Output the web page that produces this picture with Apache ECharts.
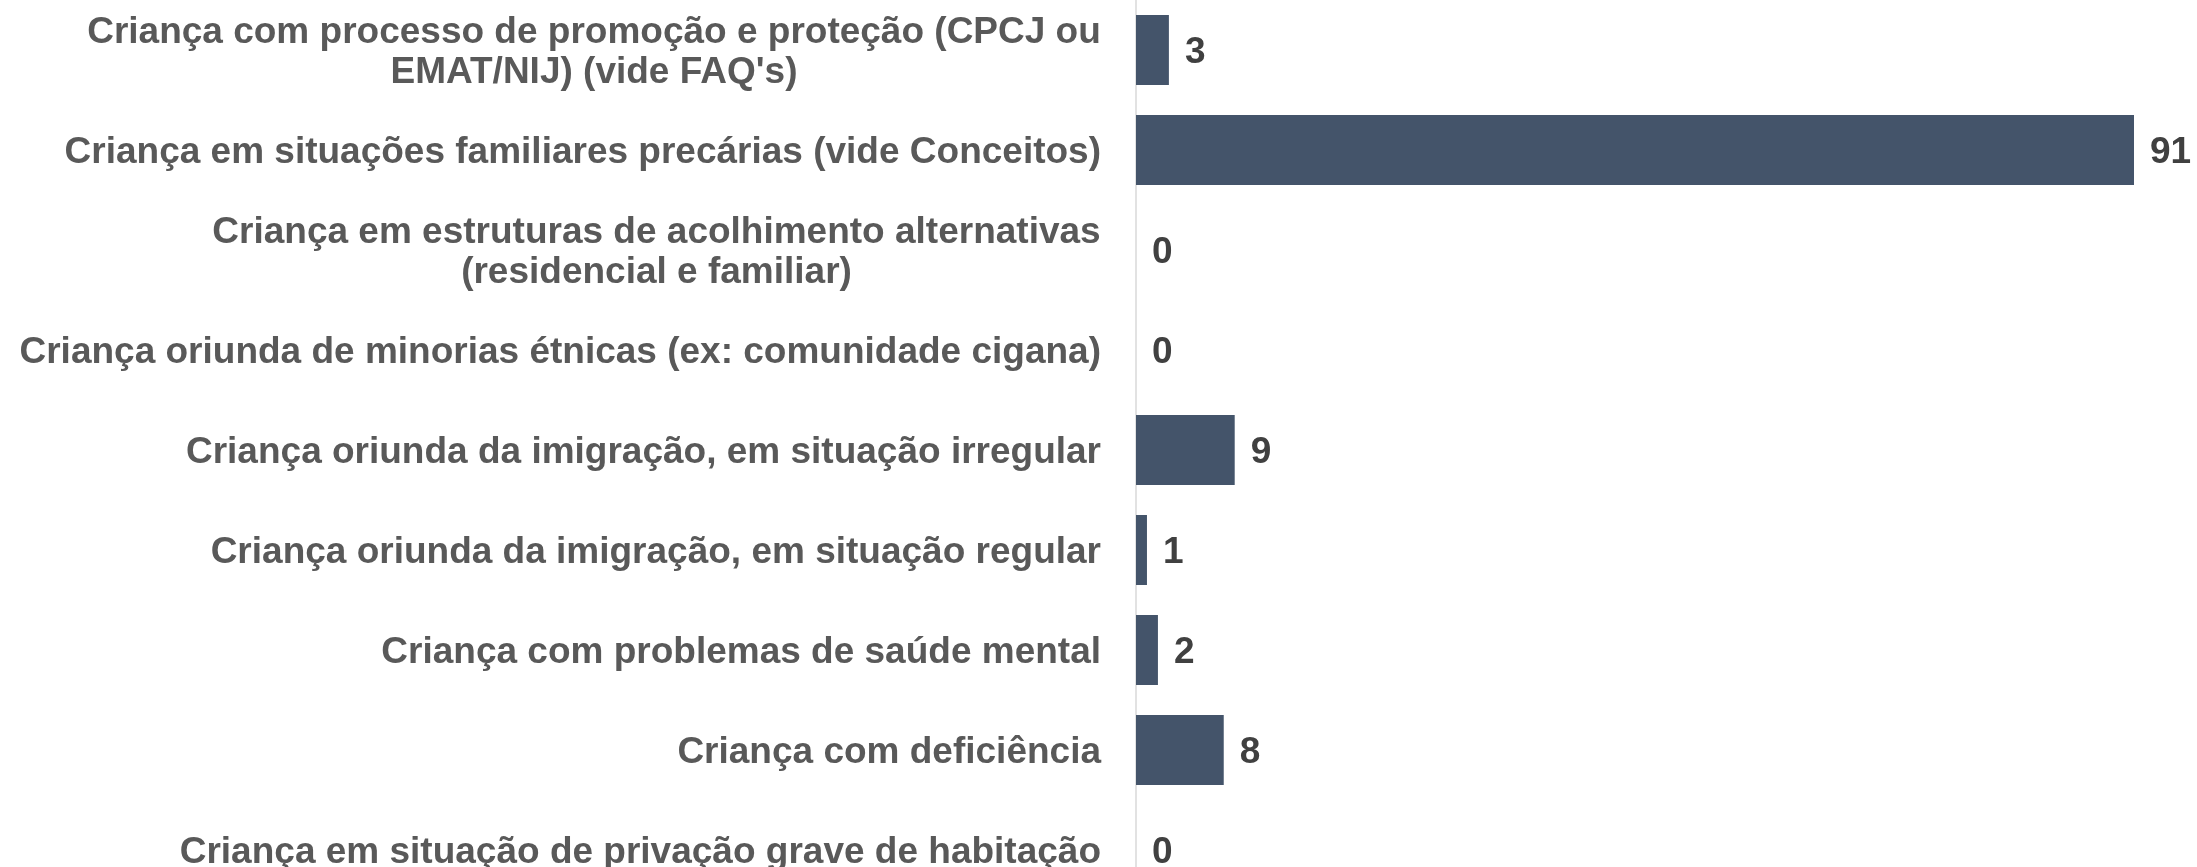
<!DOCTYPE html>
<html>
<head>
<meta charset="utf-8">
<script src="https://cdn.jsdelivr.net/npm/echarts@6/dist/echarts.min.js"></script>
<style>
  html, body { margin: 0; padding: 0; background: #fff; overflow: hidden; }
  #chart { width: 2197px; height: 900px; }
</style>
</head>
<body>
<div id="chart"></div>
<script>
const categories = [
  "Criança com processo de promoção e proteção (CPCJ ou\nEMAT/NIJ) (vide FAQ's)",
  "Criança em situações familiares precárias (vide Conceitos)",
  "Criança em estruturas de acolhimento alternativas\n(residencial e familiar)",
  "Criança oriunda de minorias étnicas (ex: comunidade cigana)",
  "Criança oriunda da imigração, em situação irregular",
  "Criança oriunda da imigração, em situação regular",
  "Criança com problemas de saúde mental",
  "Criança com deficiência",
  "Criança em situação de privação grave de habitação"
];
const values = [3, 91, 0, 0, 9, 1, 2, 8, 0];

const fontFamily = "'Liberation Sans', Arial, sans-serif";
const fontSize = 37;

// measure the widest line so multi-line labels can be centred under it
const ctx = document.createElement("canvas").getContext("2d");
ctx.font = "bold " + fontSize + "px " + fontFamily;
function lineWidth(s) {
  return Math.ceil(ctx.measureText(s).width);
}

const rich = {};
categories.forEach((c) => {
  const lines = c.split("\n");
  if (lines.length > 1) {
    const w = Math.max(...lines.map(lineWidth));
    rich["c" + w] = {
      width: w,
      align: "center",
      color: "#595959",
      fontFamily: fontFamily,
      fontWeight: "bold",
      fontSize: fontSize,
      lineHeight: 40
    };
  }
});

const chart = echarts.init(document.getElementById("chart"));

chart.setOption({
  animation: false,
  grid: {
    left: 1136,
    top: 0,
    width: 998,
    height: 900
  },
  xAxis: {
    type: "value",
    min: 0,
    max: 91,
    show: false
  },
  yAxis: {
    type: "category",
    data: categories,
    inverse: true,
    axisTick: { show: false },
    axisLine: { show: true, lineStyle: { color: "#d9d9d9", width: 1.5 } },
    axisLabel: {
      margin: 35,
      padding: [6, 0, 0, 0],
      color: "#595959",
      fontFamily: fontFamily,
      fontWeight: "bold",
      fontSize: fontSize,
      lineHeight: 40,
      formatter: function (value) {
        const lines = value.split("\n");
        if (lines.length === 1) return value;
        const w = Math.max(...lines.map(lineWidth));
        return lines.map((l) => "{c" + w + "|" + l + "}").join("\n");
      },
      rich: rich
    }
  },
  series: [
    {
      type: "bar",
      data: values,
      barCategoryGap: "30%",
      itemStyle: { color: "#44546a" },
      label: {
        show: true,
        position: "right",
        distance: 16,
        offset: [0, 3],
        color: "#404040",
        fontFamily: fontFamily,
        fontWeight: "bold",
        fontSize: fontSize
      }
    }
  ]
});
</script>
</body>
</html>
